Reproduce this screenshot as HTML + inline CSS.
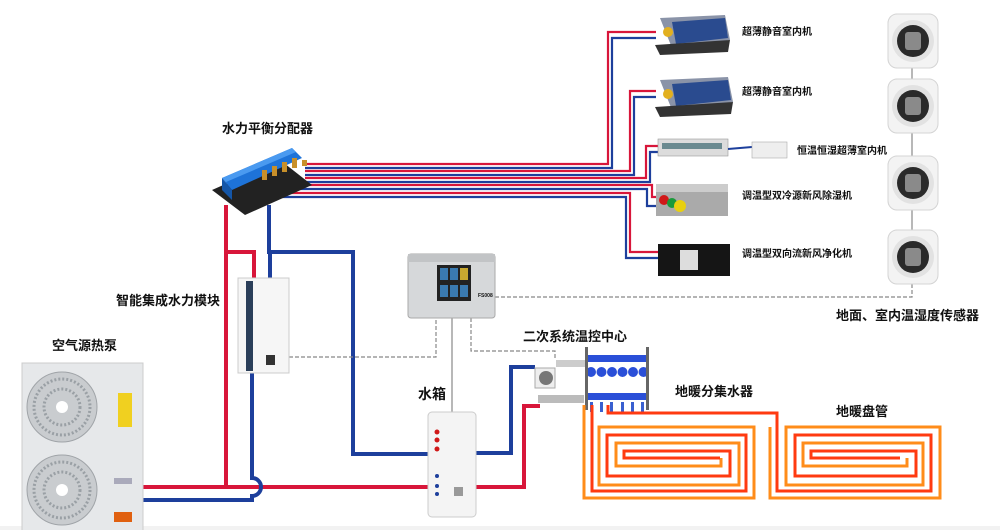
<!DOCTYPE html>
<html><head><meta charset="utf-8"><style>
html,body{margin:0;padding:0;background:#fff;}
svg{display:block;}
text{font-family:"Liberation Sans","Noto Sans CJK SC",sans-serif;font-weight:bold;fill:#111;}
</style></head><body>
<svg width="1000" height="530" viewBox="0 0 1000 530" xmlns="http://www.w3.org/2000/svg">
<defs>
<g id="sensor"><rect width="50" height="54" rx="9" fill="#f3f3f3" stroke="#d4d4d4"/><circle cx="25" cy="27" r="21" fill="#e2e2e2"/><circle cx="25" cy="27" r="16" fill="#2a2a2a"/><rect x="17" y="18" width="16" height="18" rx="3" fill="#8a8a8a"/></g>
<g id="fan"><circle r="35" fill="#c9cccf" stroke="#a0a4a8"/><circle r="28" fill="none" stroke="#9aa0a5" stroke-dasharray="2,2" stroke-width="3"/><circle r="18" fill="none" stroke="#9aa0a5" stroke-dasharray="2,2" stroke-width="3"/><circle r="6" fill="#fff"/></g>
</defs>
<rect width="1000" height="530" fill="#fff"/>
<rect y="526" width="1000" height="4" fill="#f2f2f2"/>

<g fill="none" stroke-width="2.2">
<polyline stroke="#d8163a" points="305,164 608,164 608,32 656,32"/>
<polyline stroke="#1d3f9c" points="305,168 612,168 612,38 656,38"/>
<polyline stroke="#d8163a" points="305,171 630,171 630,91 656,91"/>
<polyline stroke="#1d3f9c" points="305,175 634,175 634,97 656,97"/>
<polyline stroke="#d8163a" points="305,178 646,178 646,146 660,146"/>
<polyline stroke="#1d3f9c" points="305,182 650,182 650,152 660,152"/>
<polyline stroke="#d8163a" points="290,185 652,185 652,197 662,197"/>
<polyline stroke="#1d3f9c" points="290,189 647,189 647,206 662,206"/>
<polyline stroke="#d8163a" points="285,193 630,193 630,252 660,252"/>
<polyline stroke="#1d3f9c" points="280,197 626,197 626,258 660,258"/>
</g>

<g fill="none" stroke-width="4">
<polyline stroke="#d8163a" points="226,205 226,487 143,487"/>
<polyline stroke="#d8163a" points="226,252 254,252 254,278"/>
<polyline stroke="#d8163a" points="226,487 428,487"/>
<polyline stroke="#1d3f9c" points="269,205 269,252 353,252 353,454 428,454"/>
<polyline stroke="#1d3f9c" points="270,252 270,278"/>
<path stroke="#1d3f9c" d="M252,372 L252,478 A9,9 0 0 1 252,496 L252,500 L140,500"/>
<polyline stroke="#1d3f9c" points="476,453 511,453 511,367 535,367"/>
<polyline stroke="#d8163a" points="476,487 524,487 524,406 540,406"/>
</g>

<g fill="none" stroke="#888" stroke-width="1.2">
<polyline stroke-dasharray="4,2" points="289,357 436,357 436,318"/>
<line x1="452" y1="318" x2="452" y2="412"/>
<polyline stroke-dasharray="4,2" points="471,318 471,351 555,351 555,358"/>
<polyline stroke-dasharray="4,2" points="495,297 912,297 912,283"/>
<line x1="912" y1="68" x2="912" y2="283"/>
</g>

<g>
<polygon points="212,190 280,160 312,185 245,215" fill="#222"/>
<polygon points="222,178 292,148 302,158 232,190" fill="#1e73d8"/>
<polygon points="222,178 292,148 296,152 226,182" fill="#4a9af0"/>
<polygon points="222,178 232,190 232,200 222,190" fill="#1456a8"/>
<g fill="#c8902a"><rect x="262" y="170" width="5" height="10"/><rect x="272" y="166" width="5" height="10"/><rect x="282" y="162" width="5" height="10"/><rect x="292" y="158" width="5" height="10"/><rect x="302" y="160" width="5" height="6"/></g>
</g>
<text x="222" y="133" font-size="13">水力平衡分配器</text>

<g>
<polygon points="660,18 725,15 730,40 672,48" fill="#8a93a8"/>
<polygon points="672,22 725,18 728,38 676,44" fill="#2a4b8f"/>
<polygon points="655,45 730,40 728,52 660,55" fill="#333"/>
<circle cx="668" cy="32" r="5" fill="#e2b020"/>
<polygon points="660,80 728,77 733,102 672,110" fill="#8a93a8"/>
<polygon points="672,84 728,80 731,100 676,106" fill="#2a4b8f"/>
<polygon points="655,107 733,102 731,114 660,117" fill="#333"/>
<circle cx="668" cy="94" r="5" fill="#e2b020"/>
<rect x="658" y="139" width="70" height="17" fill="#dcdcdc" stroke="#999" stroke-width=".6"/>
<rect x="662" y="143" width="60" height="6" fill="#6a8a90"/>
<line x1="728" y1="149" x2="752" y2="147" stroke="#1d3f9c" stroke-width="2"/>
<rect x="752" y="142" width="35" height="16" fill="#eee" stroke="#aaa" stroke-width=".6"/>
<rect x="656" y="184" width="72" height="32" fill="#aaa"/>
<rect x="656" y="184" width="72" height="8" fill="#ccc"/>
<circle cx="664" cy="200" r="5" fill="#d01818"/><circle cx="672" cy="203" r="5" fill="#1a9a3a"/><circle cx="680" cy="206" r="6" fill="#e8d010"/>
<rect x="658" y="244" width="72" height="32" fill="#151515"/>
<rect x="680" y="250" width="18" height="20" fill="#ddd"/>
</g>
<g font-size="10">
<text x="742" y="35">超薄静音室内机</text>
<text x="742" y="95">超薄静音室内机</text>
<text x="797" y="154">恒温恒湿超薄室内机</text>
<text x="742" y="199">调温型双冷源新风除湿机</text>
<text x="742" y="257">调温型双向流新风净化机</text>
</g>

<use href="#sensor" x="888" y="14"/>
<use href="#sensor" x="888" y="79"/>
<use href="#sensor" x="888" y="156"/>
<use href="#sensor" x="888" y="230"/>
<text x="836" y="320" font-size="13">地面、室内温湿度传感器</text>

<rect x="238" y="278" width="51" height="95" fill="#f6f6f6" stroke="#ccc"/>
<rect x="246" y="281" width="7" height="90" fill="#2b3f5a"/>
<rect x="266" y="355" width="9" height="10" fill="#333"/>
<text x="116" y="305" font-size="13">智能集成水力模块</text>

<rect x="22" y="363" width="121" height="168" fill="#e6e8ea" stroke="#ccc"/>
<use href="#fan" x="62" y="407"/>
<use href="#fan" x="62" y="490"/>
<rect x="118" y="393" width="14" height="34" fill="#f0d020"/>
<rect x="114" y="478" width="18" height="6" fill="#aab"/>
<rect x="114" y="512" width="18" height="10" fill="#e06010"/>
<text x="52" y="350" font-size="13">空气源热泵</text>

<rect x="408" y="254" width="87" height="64" rx="3" fill="#d6d8da" stroke="#aaa"/>
<rect x="408" y="254" width="87" height="8" fill="#c2c4c6"/>
<rect x="437" y="265" width="34" height="36" fill="#222"/>
<g fill="#3a7ab0"><rect x="440" y="268" width="8" height="12"/><rect x="450" y="268" width="8" height="12"/><rect x="460" y="268" width="8" height="12" fill="#c8a830"/><rect x="440" y="285" width="8" height="12"/><rect x="450" y="285" width="8" height="12"/><rect x="460" y="285" width="8" height="12"/></g>
<text x="478" y="297" font-size="5" font-weight="normal">FS008</text>

<rect x="428" y="412" width="48" height="105" rx="4" fill="#f4f4f4" stroke="#ccc"/>
<circle cx="437" cy="432" r="2.5" fill="#d01818"/><circle cx="437" cy="440" r="2.5" fill="#d01818"/><circle cx="437" cy="449" r="2.5" fill="#d01818"/>
<circle cx="437" cy="476" r="2" fill="#1d3f9c"/><circle cx="437" cy="486" r="2" fill="#1d3f9c"/><circle cx="437" cy="494" r="2" fill="#1d3f9c"/>
<rect x="454" y="487" width="9" height="9" fill="#999"/>
<text x="418" y="399" font-size="14">水箱</text>

<rect x="535" y="368" width="20" height="20" fill="#eee" stroke="#aaa"/>
<circle cx="546" cy="378" r="7" fill="#777"/>
<rect x="538" y="395" width="46" height="8" fill="#bbb"/>
<rect x="556" y="360" width="30" height="7" fill="#ccc"/>
<text x="523" y="341" font-size="13">二次系统温控中心</text>

<g>
<rect x="587" y="355" width="60" height="7" fill="#2a4fd8"/>
<rect x="587" y="393" width="60" height="7" fill="#2a4fd8"/>
<g fill="#2a4fd8"><circle cx="591" cy="372" r="5"/><circle cx="601.5" cy="372" r="5"/><circle cx="612" cy="372" r="5"/><circle cx="622.5" cy="372" r="5"/><circle cx="633" cy="372" r="5"/><circle cx="643.5" cy="372" r="5"/></g>
<rect x="585" y="347" width="3" height="63" fill="#666"/>
<rect x="646" y="347" width="3" height="63" fill="#666"/>
<g fill="#3a60d0"><rect x="590" y="402" width="3" height="10"/><rect x="600" y="402" width="3" height="10"/><rect x="610" y="402" width="3" height="10"/><rect x="621" y="402" width="3" height="10"/><rect x="631" y="402" width="3" height="10"/><rect x="641" y="402" width="3" height="10"/></g>
</g>
<text x="675" y="396" font-size="13">地暖分集水器</text>

<g fill="none" stroke-width="3" stroke-linejoin="miter">
<polyline stroke="#ff8c1a" points="584,405 584,498 754,498 754,427 599,427 599,485 739,485 739,443 616,443 616,466 721,466 721,458"/>
<polyline stroke="#ff3a10" points="592,405 592,491 746,491 746,435 607,435 607,476 730,476 730,451 624,451 624,458 720,458"/>
<polyline stroke="#ff3a10" points="608,405 608,413 777,413 777,491 931,491 931,435 795,435 795,476 916,476 916,451 811,451 811,458 900,458"/>
<polyline stroke="#ff8c1a" points="770,427 770,498 940,498 940,427 786,427 786,485 923,485 923,443 803,443 803,466 907,466 907,458"/>
</g>
<text x="836" y="416" font-size="13">地暖盘管</text>
</svg>
</body></html>
